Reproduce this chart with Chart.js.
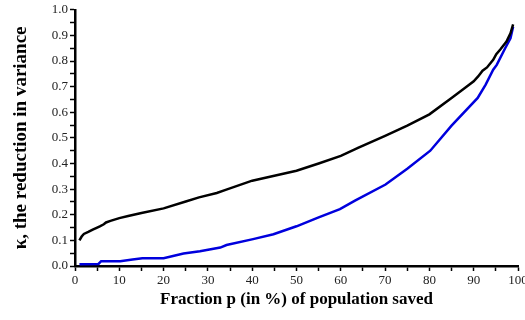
<!DOCTYPE html>
<html>
<head>
<meta charset="utf-8">
<script src="https://cdn.jsdelivr.net/npm/chart.js@4/dist/chart.umd.min.js"></script>
<style>
  html, body { margin: 0; padding: 0; background: #fff; overflow: hidden; }
  #wrap { width: 525px; height: 320px; }
</style>
</head>
<body>
<div id="wrap"><canvas id="kappaChart" width="525" height="320"></canvas></div>
<script>
// fraction saved (%) and kappa, upper (black) curve
const blackX = [1.0, 1.5, 2, 3, 4, 5, 5.6, 6.5, 7, 8, 10, 12, 15, 20, 25, 28, 32, 34, 40, 45, 50, 55, 60, 64, 70, 75, 80, 85, 88, 90, 91, 92, 93, 94.4, 95.1, 96, 97.4, 98.3, 98.9]
const blackY = [0.100, 0.115, 0.125, 0.133, 0.142, 0.150, 0.155, 0.163, 0.170, 0.176, 0.187, 0.195, 0.207, 0.225, 0.252, 0.268, 0.285, 0.297, 0.333, 0.352, 0.372, 0.400, 0.430, 0.462, 0.508, 0.548, 0.592, 0.656, 0.695, 0.721, 0.740, 0.762, 0.775, 0.805, 0.827, 0.845, 0.876, 0.908, 0.943]

// lower (blue) curve
const blueX = [1, 5.3, 5.9, 10.2, 13, 15.2, 20, 24.5, 28.2, 32.8, 34.2, 40.2, 44.8, 50, 55, 59.8, 63.2, 70.1, 75, 80.2, 85, 90.9, 92.7, 94.4, 95.2, 97.1, 98.3, 98.9]
const blueY = [0.007, 0.008, 0.019, 0.019, 0.025, 0.030, 0.030, 0.049, 0.058, 0.072, 0.082, 0.105, 0.124, 0.155, 0.190, 0.222, 0.255, 0.318, 0.380, 0.450, 0.548, 0.656, 0.708, 0.766, 0.785, 0.850, 0.889, 0.934]

const xTitle = 'Fraction p (in %) of population saved'
const yTitle = 'κ, the reduction in variance'

const toPoints = (xs, ys) => xs.map((x, i) => ({ x: x, y: ys[i] }))

const serif = '"Liberation Serif", "DejaVu Serif", serif'

const ctx = document.getElementById('kappaChart').getContext('2d')

new Chart(ctx, {
  type: 'line',
  data: {
    datasets: [
      {
        data: toPoints(blackX, blackY),
        borderColor: '#000000',
        borderWidth: 2.5,
        pointRadius: 0,
        tension: 0,
      },
      {
        data: toPoints(blueX, blueY),
        borderColor: '#0000dd',
        borderWidth: 2.5,
        pointRadius: 0,
        tension: 0,
      },
    ],
  },
  options: {
    responsive: false,
    animation: false,
    layout: { padding: 0 },
    plugins: {
      legend: { display: false },
      tooltip: { enabled: false },
    },
    scales: {
      x: {
        type: 'linear',
        min: 0,
        max: 100,
        border: { display: true, color: '#000', width: 2.5 },
        grid: { drawOnChartArea: false, color: '#000', tickLength: 5, tickWidth: 1.5 },
        ticks: {
          stepSize: 5,
          autoSkip: false,
          maxRotation: 0,
          padding: 2,
          color: '#222',
          font: { family: serif, size: 13 },
          callback: (v) => (v % 10 === 0 ? String(v) : ''),
        },
        title: {
          display: true,
          text: xTitle,
          color: '#000',
          font: { family: serif, size: 17, weight: 'bold' },
          padding: { top: 0, bottom: 10 },
        },
        afterFit: (scale) => {
          scale.height = 54
          scale.paddingRight = 7 // let the "100" label run off the edge
        },
      },
      y: {
        min: 0,
        max: 1,
        border: { display: true, color: '#000', width: 2.5 },
        grid: { drawOnChartArea: false, color: '#000', tickLength: 5, tickWidth: 1.5 },
        ticks: {
          stepSize: 0.05,
          autoSkip: false,
          padding: 2,
          color: '#222',
          font: { family: serif, size: 13 },
          callback: (v) => {
            const r = Math.round(v * 100)
            return r % 10 === 0 ? (r / 100).toFixed(1) : ''
          },
        },
        title: {
          display: true,
          text: yTitle,
          color: '#000',
          font: { family: serif, size: 19, weight: 'bold' },
          padding: { top: 10, bottom: 0 },
        },
        afterFit: (scale) => {
          scale.width = 75
        },
      },
    },
  },
})
</script>
</body>
</html>
